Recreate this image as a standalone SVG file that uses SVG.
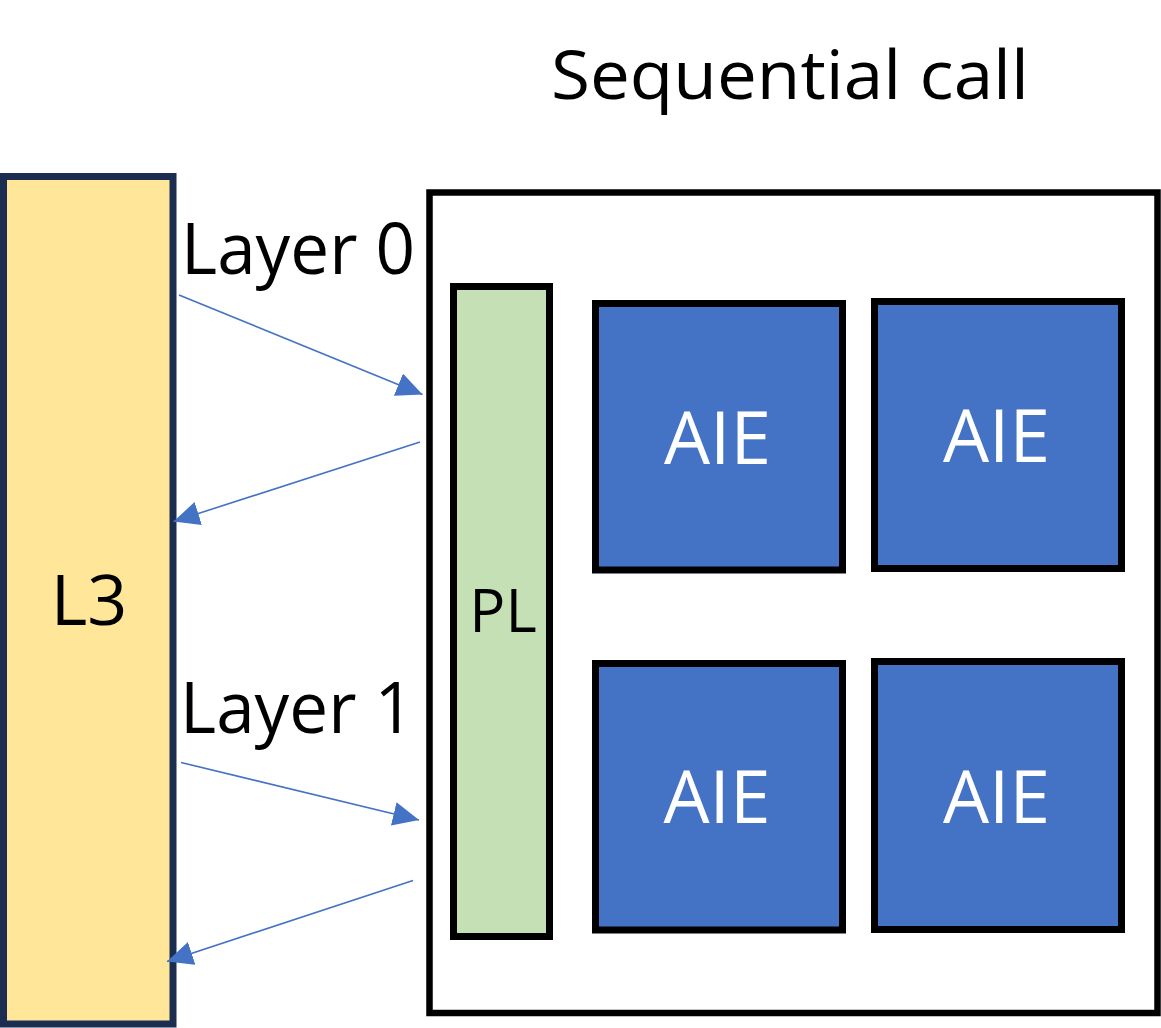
<svg xmlns="http://www.w3.org/2000/svg" width="1161" height="1028" viewBox="0 0 1161 1028">
<style>
.lbl{font-family:"Open Sans","Noto Sans","Liberation Sans",sans-serif;text-anchor:middle}
.aie{fill:#4472C4;stroke:#000;stroke-width:7}
.conn{stroke:#4472C4;stroke-width:1.6;fill:none;marker-end:url(#ah)}
</style>
<defs>
<marker id="ah" markerUnits="userSpaceOnUse" markerWidth="27" markerHeight="25" refX="26" refY="12" orient="auto">
<path d="M0,0 L26,12 L0,24 z" fill="#4472C4"/>
</marker>
</defs>
<rect width="1161" height="1028" fill="#fff"/>
<text class="lbl" x="790" y="99" font-size="68" fill="#000" textLength="478" lengthAdjust="spacingAndGlyphs">Sequential call</text>
<g id="L3">
<rect x="3.5" y="176.5" width="169.5" height="847.5" fill="#FFE699" stroke="#1B2D50" stroke-width="7"/>
<text class="lbl" x="89" y="625" font-size="70" fill="#000">L3</text>
</g>
<g id="container">
<rect x="429.5" y="192.5" width="728" height="820.5" fill="none" stroke="#000" stroke-width="6.5"/>
</g>
<g id="PL">
<rect x="453.5" y="286.5" width="96" height="650" fill="#C5E0B4" stroke="#000" stroke-width="7"/>
<text class="lbl" x="503" y="631.5" font-size="60" fill="#000">PL</text>
</g>
<g id="AIE1">
<rect class="aie" x="595.5" y="303.5" width="247" height="266.5"/>
<text class="lbl" x="717.5" y="464" font-size="73" fill="#fff">AIE</text>
</g>
<g id="AIE2">
<rect class="aie" x="874.5" y="301.5" width="247" height="267"/>
<text class="lbl" x="996.5" y="461.5" font-size="73" fill="#fff">AIE</text>
</g>
<g id="AIE3">
<rect class="aie" x="595.5" y="663.5" width="247" height="266.5"/>
<text class="lbl" x="717" y="823" font-size="73" fill="#fff">AIE</text>
</g>
<g id="AIE4">
<rect class="aie" x="874.5" y="661.5" width="247" height="268"/>
<text class="lbl" x="996.5" y="822.5" font-size="73" fill="#fff">AIE</text>
</g>
<g id="labels">
<text class="lbl" x="298" y="274" font-size="72" fill="#000" textLength="234" lengthAdjust="spacingAndGlyphs">Layer 0</text>
<text class="lbl" x="297" y="733" font-size="72" fill="#000" textLength="234" lengthAdjust="spacingAndGlyphs">Layer 1</text>
</g>
<g id="connectors">
<line class="conn" x1="179" y1="295" x2="422.5" y2="394.5"/>
<line class="conn" x1="420" y1="442" x2="173.5" y2="521.5"/>
<line class="conn" x1="181" y1="762.5" x2="419" y2="820"/>
<line class="conn" x1="413" y1="880.5" x2="167" y2="961.5"/>
</g>
</svg>
